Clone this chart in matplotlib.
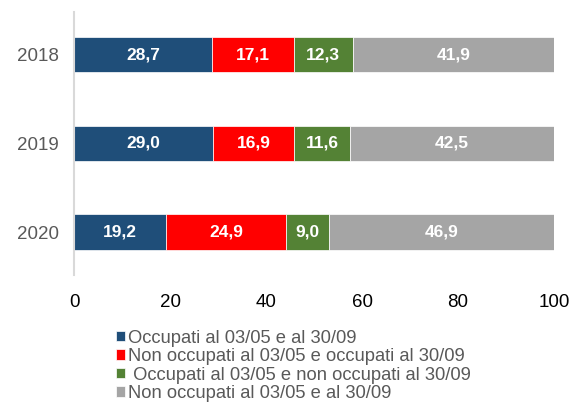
import matplotlib.pyplot as plt
import numpy as np

plt.rcParams['font.family'] = ['Liberation Sans', 'DejaVu Sans']

years = ["2018", "2019", "2020"]
series_names = ["Occupati al 03/05 e al 30/09",
                "Non occupati al 03/05 e occupati al 30/09",
                " Occupati al 03/05 e non occupati al 30/09",
                "Non occupati al 03/05 e al 30/09"]
occ_occ = [28.7, 29.0, 19.2]
non_occ = [17.1, 16.9, 24.9]
occ_non = [12.3, 11.6, 9.0]
non_non = [41.9, 42.5, 46.9]
colors = ["#1F4E79", "#FF0000", "#548235", "#A5A5A5"]

fig = plt.figure(figsize=(5.75, 4.03), dpi=100)
ax = fig.add_axes([0.1287, 0.318, 0.8348, 0.652])

y = np.arange(len(years))
left = np.zeros(len(years))
for vals, name, col in zip([occ_occ, non_occ, occ_non, non_non], series_names, colors):
    bars = ax.barh(y, vals, left=left, height=0.40, color=col, label=name,
                   edgecolor="white", linewidth=0.5)
    for b, v in zip(bars, vals):
        ax.text(b.get_x() + b.get_width() / 2, b.get_y() + b.get_height() / 2,
                f"{v:.1f}".replace(".", ","), ha="center", va="center",
                color="white", fontsize=12.5, fontweight="bold")
    left += np.array(vals)

ax.set_xlim(0, 100)
ax.set_ylim(2.48, -0.48)
ax.set_yticks(y)
ax.set_yticklabels(years, color="#595959", fontsize=13.5)
ax.set_xticks([0, 20, 40, 60, 80, 100])
ax.tick_params(axis="x", length=0, labelsize=13.5, pad=14, labelcolor="black")
ax.tick_params(axis="y", length=0, pad=11)
for s in ["top", "right", "bottom"]:
    ax.spines[s].set_visible(False)
ax.spines["left"].set_color("#D9D9D9")
ax.spines["left"].set_linewidth(1.5)

leg = fig.legend(loc="upper left", bbox_to_anchor=(0.201, 0.182), frameon=False,
                 fontsize=13.2, handlelength=0.5, handleheight=0.5,
                 handletextpad=0.2, labelspacing=0.08, borderpad=0,
                 borderaxespad=0)
for t in leg.get_texts():
    t.set_color("#595959")

fig.savefig("out.png", dpi=100)
